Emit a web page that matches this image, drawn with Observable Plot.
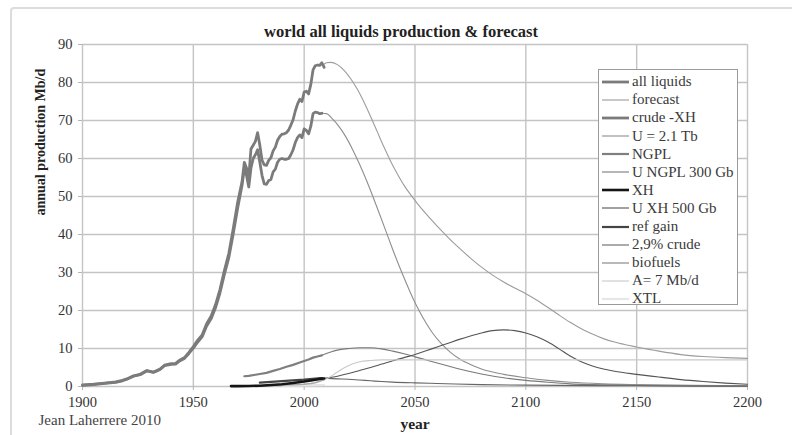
<!DOCTYPE html>
<html>
<head>
<meta charset="utf-8">
<script src="https://cdn.jsdelivr.net/npm/d3@7"></script>
<script src="https://cdn.jsdelivr.net/npm/@observablehq/plot@0.6"></script>
<style>
  html, body { margin: 0; padding: 0; background: #fff; }
  #wrap { position: relative; width: 792px; height: 435px; overflow: hidden; font-family: "Liberation Serif", serif; }
  #frame { position: absolute; left: 10px; top: 7px; width: 800px; height: 460px; border: 2px solid #dcdcdc; border-radius: 4px; pointer-events: none; }
  #legend { position: absolute; left: 598px; top: 69px; width: 140px; height: 236px; border: 1px solid #9a9a9a; background: #fff; box-sizing: border-box; }
  .row { position: absolute; left: 0; height: 18px; display: flex; align-items: center; font-family: "Liberation Serif", serif; font-size: 15px; color: #3a3a3a; white-space: nowrap; }
  .row svg { margin-left: 3px; margin-right: 3px; }
</style>
</head>
<body>
<div id="wrap">
  <div id="chart"></div>
  <div id="frame"></div>
  <div id="legend"></div>
</div>
<script>
// World all-liquids production history and forecast, Mb/d

const xTicks = [1900, 1950, 2000, 2050, 2100, 2150, 2200];
const yTicks = [0, 10, 20, 30, 40, 50, 60, 70, 80, 90];

const allLiquids = [
  [1900,0.4],[1905,0.6],[1910,0.9],[1915,1.2],[1918,1.6],[1920,2.0],[1923,2.8],[1926,3.2],
  [1929,4.2],[1932,3.8],[1935,4.6],[1937,5.6],[1940,6.0],[1942,6.1],[1944,7.0],[1946,7.6],
  [1948,9.0],[1950,10.5],[1952,12.2],[1954,13.6],[1956,16.5],[1958,18.5],[1960,21.5],
  [1962,25.5],[1964,30.5],[1966,35],[1968,41.5],[1970,48.5],[1972,54],[1973,59],[1974,57.5],
  [1975,55],[1976,62.5],[1977,63.5],[1978,64.5],[1979,66.8],[1980,63.5],[1981,59.5],
  [1982,58.3],[1983,58.2],[1984,59.5],[1985,60.2],[1986,62],[1987,63],[1988,64.8],
  [1989,65.8],[1990,66.4],[1991,66.5],[1992,66.8],[1993,67.5],[1994,68.8],[1995,70.2],
  [1996,72.5],[1997,74.3],[1998,75.6],[1999,75.0],[2000,77.5],[2001,77.7],[2002,77.0],
  [2003,79.5],[2004,83.3],[2005,84.4],[2006,84.6],[2007,84.5],[2008,85.2],[2009,84.0]
];
const forecast = [
  [2009,84.8],[2010,85.2],[2012,85.3],[2015,84.7],[2018,83.2],[2021,81.0],[2024,78.2],
  [2027,74.8],[2030,71.0],[2033,67.0],[2036,63.0],[2039,59.3],[2042,56.0],[2045,53.0],
  [2048,50.5],[2051,48.2],[2055,45.4],[2060,42.2],[2065,39.2],[2070,36.4],[2075,33.8],
  [2080,31.4],[2085,29.3],[2090,27.5],[2095,25.9],[2100,24.4],[2105,22.7],[2110,20.8],
  [2115,18.8],[2120,16.9],[2125,15.2],[2130,13.8],[2135,12.6],[2140,11.7],[2145,11.0],
  [2150,10.4],[2160,9.3],[2170,8.4],[2180,7.9],[2190,7.6],[2200,7.4]
];
const crude = [
  [1900,0.3],[1905,0.5],[1910,0.8],[1915,1.1],[1918,1.5],[1920,1.9],[1923,2.7],[1926,3.1],
  [1929,4.1],[1932,3.7],[1935,4.5],[1937,5.5],[1940,5.8],[1942,5.9],[1944,6.8],[1946,7.4],
  [1948,8.7],[1950,10.1],[1952,11.7],[1954,13.1],[1956,15.9],[1958,17.8],[1960,20.7],
  [1962,24.6],[1964,29.5],[1966,33.9],[1968,40.2],[1970,47.0],[1972,53],[1973,57.5],
  [1974,55.5],[1975,52.5],[1976,57.5],[1977,60],[1978,61],[1979,62.3],[1980,59],[1981,55.5],
  [1982,53.3],[1983,53.2],[1984,54.2],[1985,54.5],[1986,56.5],[1987,57.2],[1988,59],
  [1989,59.8],[1990,60],[1991,59.8],[1992,59.8],[1993,60],[1994,61],[1995,62.3],[1996,64.2],
  [1997,65.5],[1998,66.2],[1999,65.5],[2000,67.8],[2001,67.4],[2002,66.5],[2003,68.5],
  [2004,71.8],[2005,72.2],[2006,72.1],[2007,71.8],[2008,71.9]
];
const crudeU21 = [
  [2008,71.9],[2010,71.8],[2013,70.3],[2016,68.2],[2019,65.5],[2022,62.2],[2025,58.5],
  [2028,54.4],[2031,50.0],[2034,45.4],[2037,40.7],[2040,36.0],[2043,31.5],[2046,27.3],
  [2049,23.3],[2052,19.8],[2055,16.7],[2058,14.0],[2062,11.2],[2066,9.0],[2070,7.3],
  [2075,5.8],[2080,4.6],[2090,3.2],[2100,2.3],[2110,1.6],[2120,1.1],[2135,0.7],
  [2150,0.5],[2175,0.3],[2200,0.2]
];
const ngpl = [
  [1973,2.7],[1975,2.8],[1978,3.1],[1980,3.3],[1983,3.6],[1986,4.1],[1989,4.6],[1992,5.2],
  [1995,5.7],[1998,6.3],[2000,6.7],[2002,7.1],[2004,7.6],[2006,7.9],[2008,8.2]
];
const ngplU300 = [
  [2008,8.2],[2012,9.1],[2016,9.7],[2020,10.0],[2025,10.2],[2030,10.2],[2035,9.9],
  [2040,9.3],[2045,8.6],[2050,7.8],[2055,7.0],[2060,6.2],[2065,5.4],[2070,4.6],[2080,3.3],
  [2090,2.3],[2100,1.6],[2110,1.1],[2120,0.7],[2130,0.5],[2150,0.25],[2175,0.1],[2200,0.05]
];
const xh = [
  [1967,0.1],[1970,0.1],[1975,0.15],[1980,0.2],[1985,0.4],[1990,0.6],[1995,0.9],
  [2000,1.3],[2003,1.6],[2005,1.8],[2007,2.0],[2009,2.1]
];
const xhU500 = [
  [2009,2.1],[2015,2.7],[2020,3.4],[2025,4.2],[2030,5.0],[2035,5.9],[2040,6.8],[2045,7.6],
  [2050,8.4],[2055,9.4],[2060,10.4],[2065,11.4],[2070,12.4],[2075,13.3],[2080,14.1],
  [2085,14.7],[2090,14.9],[2095,14.7],[2100,14.1],[2105,13.1],[2110,11.7],[2115,9.9],
  [2120,8.0],[2125,6.5],[2130,5.4],[2135,4.6],[2140,4.0],[2150,3.2],[2160,2.5],[2170,1.8],
  [2180,1.3],[2190,0.9],[2200,0.6]
];
const refGain = [
  [1980,1.0],[1985,1.2],[1990,1.4],[1995,1.6],[2000,1.8],[2005,2.1],[2008,2.2]
];
const refGainCrude = [
  [2008,2.2],[2015,2.0],[2020,1.9],[2025,1.7],[2030,1.5],[2035,1.3],[2040,1.15],[2050,0.95],
  [2060,0.8],[2080,0.5],[2100,0.35],[2150,0.2],[2200,0.1]
];
const biofuels = [
  [1980,0.2],[1985,0.3],[1990,0.4],[1995,0.5],[2000,0.6],[2003,0.8],[2005,1.0],[2007,1.4],[2009,1.8]
];
const biofuelsA7 = [
  [2009,1.8],[2010,2.0],[2013,3.0],[2016,4.2],[2019,5.2],[2022,6.0],[2025,6.5],[2030,6.85],
  [2035,7.0],[2050,7.0],[2100,7.0],[2150,7.0],[2200,7.0]
];
const xtl = [
  [1990,0.2],[1995,0.25],[2000,0.3],[2005,0.35],[2009,0.4]
];

// series styling: name, data, stroke, width, smooth
const series = [
  {name: "all liquids",   data: allLiquids,   stroke: "#7b7b7b", width: 2.8, smooth: false},
  {name: "forecast",      data: forecast,     stroke: "#9c9c9c", width: 1.1, smooth: true},
  {name: "crude -XH",     data: crude,        stroke: "#7b7b7b", width: 2.8, smooth: false},
  {name: "U = 2.1 Tb",    data: crudeU21,     stroke: "#8e8e8e", width: 1.1, smooth: true},
  {name: "NGPL",          data: ngpl,         stroke: "#7f7f7f", width: 2.2, smooth: false},
  {name: "U NGPL 300 Gb", data: ngplU300,     stroke: "#7a7a7a", width: 1.1, smooth: true},
  {name: "XH",            data: xh,           stroke: "#151515", width: 2.6, smooth: false},
  {name: "U XH 500 Gb",   data: xhU500,       stroke: "#555555", width: 1.1, smooth: true},
  {name: "ref gain",      data: refGain,      stroke: "#444444", width: 2.2, smooth: false},
  {name: "2,9% crude",    data: refGainCrude, stroke: "#666666", width: 1.1, smooth: true},
  {name: "biofuels",      data: biofuels,     stroke: "#a8a8a8", width: 1.6, smooth: false},
  {name: "A= 7 Mb/d",     data: biofuelsA7,   stroke: "#c9c9c9", width: 1.1, smooth: true},
  {name: "XTL",           data: xtl,          stroke: "#e6e6e6", width: 2.2, smooth: false}
];

const font = "Liberation Serif";
const drawOrder = [1, 3, 5, 7, 9, 11, 12, 10, 4, 8, 6, 2, 0];

const marks = [
  Plot.gridX(xTicks, {stroke: "#c4c4c4", strokeOpacity: 1, strokeWidth: 1.4}),
  Plot.gridY(yTicks, {stroke: "#c4c4c4", strokeOpacity: 1, strokeWidth: 1.4}),
  Plot.axisX(xTicks, {tickFormat: d => String(d), tickSize: 4, tickPadding: 6, stroke: "#b5b5b5", fill: "#333", fontSize: 14.5, label: null}),
  Plot.axisY(yTicks, {tickSize: 4, tickPadding: 6, stroke: "#b5b5b5", fill: "#333", fontSize: 14.5, label: null}),
  ...drawOrder.map(i => {
    const s = series[i];
    return Plot.line(s.data, {
      x: d => d[0], y: d => d[1],
      stroke: s.stroke, strokeWidth: s.width,
      curve: s.smooth ? "monotone-x" : "linear"
    });
  }),
  Plot.text(["world all liquids production & forecast"], {text: d => d, frameAnchor: "top", dx: -14, dy: -19, fontWeight: "bold", fontSize: 16.5, fill: "#222"}),
  Plot.text(["annual production Mb/d"], {text: d => d, frameAnchor: "left", rotate: -90, dx: -42, fontWeight: "bold", fontSize: 14, fill: "#222"}),
  Plot.text(["year"], {text: d => d, frameAnchor: "bottom", dy: 42, fontWeight: "bold", fontSize: 15.5, fill: "#222"}),
  Plot.text(["Jean Laherrere 2010"], {text: d => d, frameAnchor: "bottom-left", textAnchor: "start", dx: -44, dy: 38, fontSize: 15, fill: "#444"})
];

const chart = Plot.plot({
  width: 792,
  height: 435,
  marginLeft: 82,
  marginRight: 45,
  marginTop: 44,
  marginBottom: 49,
  x: {domain: [1900, 2200]},
  y: {domain: [0, 90]},
  style: {fontFamily: font, fontSize: "14.5px", background: "transparent", overflow: "visible"},
  marks
});
document.getElementById("chart").appendChild(chart);

// legend box
const legend = document.getElementById("legend");
series.forEach((s, i) => {
  const row = document.createElement("div");
  row.className = "row";
  row.style.top = (2.7 + i * 18.1) + "px";
  const sw = document.createElementNS("http://www.w3.org/2000/svg", "svg");
  sw.setAttribute("width", 27);
  sw.setAttribute("height", 10);
  const ln = document.createElementNS("http://www.w3.org/2000/svg", "line");
  ln.setAttribute("x1", 0); ln.setAttribute("x2", 27);
  ln.setAttribute("y1", 5); ln.setAttribute("y2", 5);
  ln.setAttribute("stroke", s.stroke);
  ln.setAttribute("stroke-width", s.width);
  sw.appendChild(ln);
  row.appendChild(sw);
  const label = document.createElement("span");
  label.textContent = s.name;
  row.appendChild(label);
  legend.appendChild(row);
});
</script>
</body>
</html>
